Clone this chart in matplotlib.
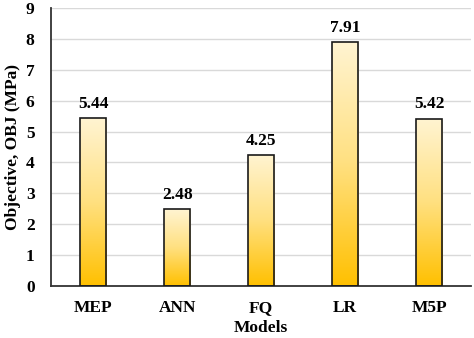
import matplotlib.pyplot as plt
import numpy as np
from matplotlib.colors import LinearSegmentedColormap

models = ["MEP", "ANN", "FQ", "LR", "M5P"]
obj = [5.44, 2.48, 4.25, 7.91, 5.42]

plt.rcParams['font.family'] = ['Liberation Serif', 'DejaVu Serif']
plt.rcParams['font.weight'] = 'bold'

# gold at the base fading to cream at the top
grad = LinearSegmentedColormap.from_list("gold", ["#FFC000", "#FFE080", "#FFF4D2"])

fig = plt.figure(figsize=(4.74, 3.38), dpi=100)
ax = fig.add_axes([0.108, 0.154, 0.886, 0.822])

x = np.arange(len(models))
bars = ax.bar(x, obj, width=0.31, facecolor="none", edgecolor="#1a1a1a", linewidth=1.2, zorder=3)
ramp = np.linspace(0, 1, 256).reshape(-1, 1)
for b in bars:
    x0, y0 = b.get_x(), b.get_y()
    w, h = b.get_width(), b.get_height()
    im = ax.imshow(ramp, cmap=grad, origin="lower", aspect="auto",
                   extent=[x0, x0 + w, y0, y0 + h], zorder=2)
    im.set_clip_path(b)

for xi, v in zip(x, obj):
    ax.text(xi, v + 0.2, f"{v:.2f}", ha="center", va="bottom", fontsize=12.5, fontweight="bold")

ax.set_xlim(-0.5, len(models) - 0.5)
ax.set_ylim(0, 9)
ax.set_yticks(range(0, 10))
ax.set_xticks(x)
ax.set_xticklabels(models)
ax.tick_params(axis="y", length=0, labelsize=12.5, pad=12)
ax.tick_params(axis="x", length=0, labelsize=12.5, pad=10)
ax.grid(axis="y", color="#d9d9d9", linewidth=1, zorder=0)
ax.set_axisbelow(True)
for s in ["top", "right"]:
    ax.spines[s].set_visible(False)
for s in ["left", "bottom"]:
    ax.spines[s].set_color("#333333")
    ax.spines[s].set_linewidth(1.3)

ax.set_xlabel("Models", fontsize=12.5, fontweight="bold", labelpad=3)
ax.set_ylabel("Objective, OBJ (MPa)", fontsize=12.5, fontweight="bold", labelpad=3)

fig.savefig("out.png", dpi=100)
